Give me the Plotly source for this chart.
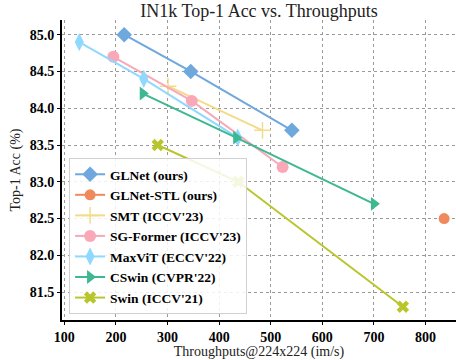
import plotly.graph_objects as go

names = ["GLNet (ours)", "GLNet-STL (ours)", "SMT (ICCV'23)", "SG-Former (ICCV'23)",
         "MaxViT (ECCV'22)", "CSwin (CVPR'22)", "Swin (ICCV'21)"]
xs = [
    [216, 345, 541],
    [836],
    [301, 484],
    [195, 347, 523],
    [129, 254, 436],
    [252, 433, 700],
    [281, 437, 756],
]
ys = [
    [85.0, 84.5, 83.7],
    [82.5],
    [84.3, 83.7],
    [84.7, 84.1, 83.2],
    [84.9, 84.4, 83.6],
    [84.2, 83.6, 82.7],
    [83.5, 83.0, 81.3],
]
colors = ["#6FA8DC", "#F08A5D", "#F2DC8A", "#F9A8B8", "#8FD8FF", "#3DB890", "#B8C62C"]
symbols = ["diamond", "circle", "cross-thin", "circle", "diamond-tall", "triangle-right", "x"]
sizes = [12, 11, 12, 12, 13, 12, 11]

fig = go.Figure()
for n, x, y, c, s, sz in zip(names, xs, ys, colors, symbols, sizes):
    fig.add_trace(go.Scatter(
        x=x, y=y, name=n, mode="lines+markers",
        line=dict(color=c, width=2),
        marker=dict(symbol=s, size=sz, color=c,
                    line=dict(color=c, width=1.5 if s == "cross-thin" else 0)),
    ))

font = "Times New Roman, Liberation Serif, serif"
fig.update_layout(
    width=456, height=360,
    margin=dict(l=62, r=0, t=20, b=40),
    paper_bgcolor="white", plot_bgcolor="white",
    font=dict(family=font, color="black"),
    title=dict(text="IN1k Top-1 Acc vs. Throughputs", x=0.568, xanchor="center",
               y=0.97, yanchor="middle", font=dict(size=18, family=font, color="#222")),
    showlegend=True,
    legend=dict(x=0.018, y=0.02, xanchor="left", yanchor="bottom",
                bgcolor="rgba(255,255,255,0.85)", bordercolor="#d0d0d0", borderwidth=1,
                font=dict(size=13.5, family=font, color="black", weight="bold"),
                itemwidth=30, tracegroupgap=0),
)
fig.update_xaxes(
    range=[95.5, 859], tickvals=[100, 200, 300, 400, 500, 600, 700, 800],
    showgrid=True, gridcolor="#9a9a9a", griddash="dot", gridwidth=1,
    showline=True, linecolor="black", linewidth=2, mirror=False,
    ticks="outside", ticklen=3, tickcolor="black",
    tickfont=dict(size=14, family=font, color="black", weight="bold"),
    title=dict(text="Throughputs@224x224 (im/s)", font=dict(size=14, family=font, color="#222"), standoff=2),
    zeroline=False,
)
fig.update_yaxes(
    range=[81.12, 85.2], tickvals=[81.5, 82.0, 82.5, 83.0, 83.5, 84.0, 84.5, 85.0],
    ticktext=["81.5", "82.0", "82.5", "83.0", "83.5", "84.0", "84.5", "85.0"],
    showgrid=True, gridcolor="#9a9a9a", griddash="dot", gridwidth=1,
    showline=True, linecolor="black", linewidth=2, mirror=False,
    ticks="outside", ticklen=3, tickcolor="black",
    tickfont=dict(size=14, family=font, color="black", weight="bold"),
    title=dict(text="Top-1 Acc (%)", font=dict(size=14, family=font, color="#222"), standoff=6),
    zeroline=False,
)
fig.write_html("out.html", config={"displayModeBar": False},
               post_script="document.body.style.margin='0px';")
